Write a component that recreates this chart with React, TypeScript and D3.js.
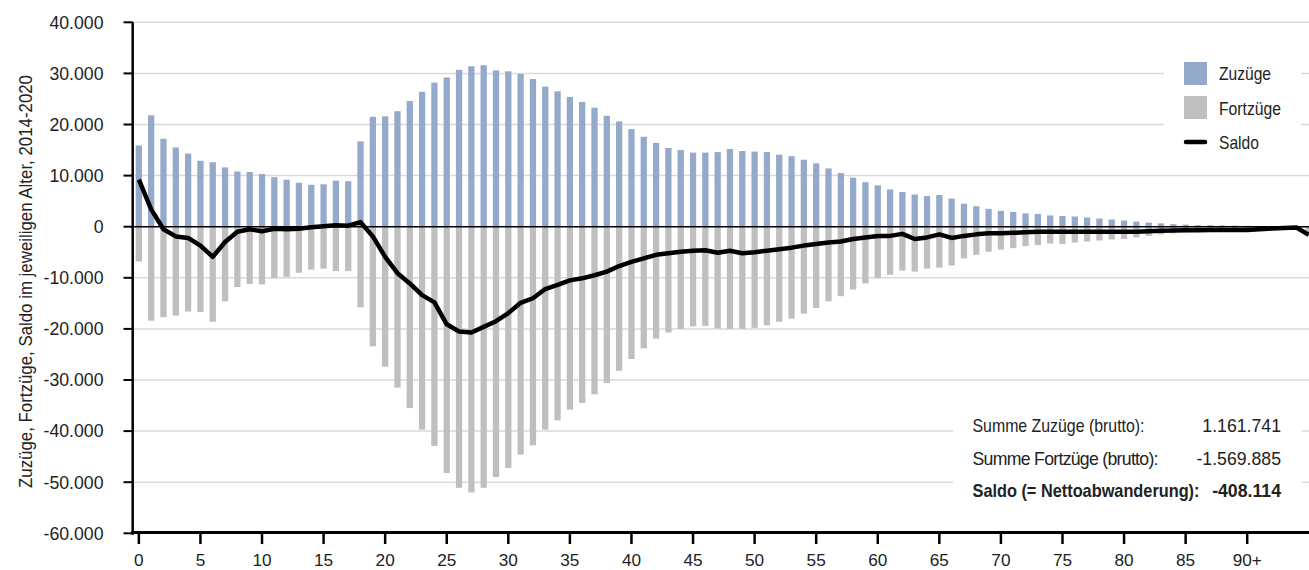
import React from 'react'
import * as d3 from 'd3'

const ages = d3.range(0, 96)
const xTickAges = d3.range(0, 91, 5)

const zuzuege = [
  15900, 21800, 17200, 15500, 14300, 12900, 12600, 11600, 10800, 10700,
  10300, 9700, 9200, 8600, 8200, 8300, 9000, 8900, 16700, 21500,
  21600, 22600, 24600, 26400, 28200, 29200, 30700, 31400, 31600, 30600,
  30400, 29900, 28900, 27400, 26500, 25400, 24400, 23300, 21700, 20600,
  19100, 17600, 16400, 15400, 15000, 14500, 14500, 14600, 15200, 14800,
  14700, 14600, 14100, 13800, 13100, 12400, 11400, 10500, 9600, 8700,
  8100, 7300, 6800, 6300, 6000, 6200, 5500, 4500, 4000, 3500,
  3100, 2900, 2600, 2500, 2200, 2100, 2000, 1800, 1600, 1400,
  1200, 1000, 800, 650, 500, 400, 300, 300, 250, 200,
  150, 120, 100, 80, 60, 100,
]

const fortzuege = [
  -6800, -18400, -17700, -17400, -16600, -16700, -18600, -14600, -11800, -11200,
  -11300, -10100, -9800, -9000, -8400, -8200, -8700, -8700, -15800, -23400,
  -27400, -31500, -35500, -39700, -42900, -48200, -51100, -52000, -51100, -49000,
  -47200, -44600, -42800, -39700, -37900, -35800, -34500, -32800, -30600, -28200,
  -25900, -23800, -21900, -20700, -20000, -19500, -19400, -19900, -20000, -20000,
  -19800, -19300, -18600, -18000, -17000, -15900, -14600, -13600, -12300, -11100,
  -10100, -9400, -8600, -8800, -8200, -8000, -7600, -6200, -5500, -4900,
  -4500, -4200, -3800, -3600, -3300, -3400, -3100, -2900, -2700, -2500,
  -2400, -2100, -1800, -1500, -1300, -1100, -1000, -900, -850, -800,
  -750, -600, -450, -350, -250, -1700,
]

const saldo = [
  9200, 3400, -500, -1900, -2200, -3700, -5900, -3000, -1000, -500,
  -900, -400, -500, -400, -100, 100, 300, 200, 900, -1900,
  -5900, -9100, -11100, -13400, -14800, -19100, -20500, -20700, -19600, -18500,
  -16900, -14900, -14000, -12200, -11400, -10500, -10100, -9500, -8800, -7700,
  -6900, -6200, -5500, -5200, -4900, -4700, -4600, -5100, -4700, -5200,
  -5000, -4700, -4400, -4100, -3700, -3400, -3100, -2900, -2400, -2100,
  -1800, -1800, -1400, -2400, -2100, -1500, -2200, -1800, -1500, -1300,
  -1300, -1200, -1100, -1000, -1000, -1000, -1000, -1000, -1000, -1000,
  -1000, -1000, -900, -800, -750, -700, -700, -650, -650, -650,
  -650, -500, -350, -250, -150, -1600,
]

const yTicks = d3.range(-60000, 40001, 10000)
const legendItems = ['Zuzüge', 'Fortzüge', 'Saldo']
const summaryLabels = ['Summe Zuzüge (brutto):', 'Summe Fortzüge (brutto):', 'Saldo (= Nettoabwanderung):']
const summaryValues = ['1.161.741', '-1.569.885', '-408.114']

const W = 1309, H = 570
const left = 132.7, step = 12.315
const blue = '#95a9cb', grey = '#bfbfbf', gridColor = '#d9d9d9'
const font = '"Liberation Sans", Arial, sans-serif'

const de = d3.formatLocale({ decimal: ',', thousands: '.', grouping: [3], currency: ['', ' €'], minus: '-' })
const fmt = de.format(',')

export default function App() {
  const x = d3.scaleBand<number>()
    .domain(ages)
    .range([left, left + ages.length * step])
    .paddingInner(0.49)
    .paddingOuter(0.245)
  const y = d3.scaleLinear().domain([-60000, 40000]).range([533.3, 22.3])
  const bw = x.bandwidth()
  const cx = (a: number) => (x(a) as number) + bw / 2

  const line = d3.line<number>()
    .x((d, i) => cx(ages[i]))
    .y(d => y(d))

  return (
    <svg width={W} height={H} style={{ position: 'absolute', left: 0, top: 0, fontFamily: font }}>
      <rect width={W} height={H} fill="#fff" />
      {/* gridlines */}
      {yTicks.filter(t => t !== 0 && t !== -60000).map(t => (
        <line key={t} x1={131} x2={W} y1={y(t)} y2={y(t)} stroke={gridColor} strokeWidth={1.5} />
      ))}
      {/* white boxes behind legend and summary */}
      <rect x={1164} y={48} width={137} height={114} fill="#fff" />
      <rect x={953} y={398} width={349} height={114} fill="#fff" />
      {/* bars */}
      {ages.map((a, i) => (
        <g key={a}>
          <rect x={x(a)} y={y(zuzuege[i])} width={bw} height={y(0) - y(zuzuege[i])} fill={blue} />
          <rect x={x(a)} y={y(0)} width={bw} height={y(fortzuege[i]) - y(0)} fill={grey} />
        </g>
      ))}
      <line x1={131} x2={W} y1={y(0)} y2={y(0)} stroke="#000" strokeWidth={1.5} />
      <path d={line(saldo) || ''} fill="none" stroke="#000" strokeWidth={4.5} strokeLinejoin="round" />
      {/* y axis */}
      <line x1={left} x2={left} y1={y(40000)} y2={y(-60000) + 1.5} stroke="#000" strokeWidth={2.5} />
      {yTicks.map(t => (
        <g key={t}>
          <line x1={123.5} x2={left} y1={y(t)} y2={y(t)} stroke="#000" strokeWidth={2} />
          <text x={103.5} y={y(t) + 6.3} textAnchor="end" fontSize={17.7} fill="#222">{fmt(t)}</text>
        </g>
      ))}
      {/* x axis */}
      <line x1={131} x2={W} y1={532.5} y2={532.5} stroke="#000" strokeWidth={3} />
      {xTickAges.map(a => (
        <g key={a}>
          <line x1={cx(a)} x2={cx(a)} y1={532} y2={544} stroke="#000" strokeWidth={2.5} />
          <text x={cx(a)} y={566} textAnchor="middle" fontSize={17.2} fill="#222">{a === 90 ? '90+' : a}</text>
        </g>
      ))}
      {/* y title */}
      <text transform="translate(31.7,281.5) rotate(-90)" textAnchor="middle" fontSize={17.7} fill="#222"
        textLength={413} lengthAdjust="spacingAndGlyphs">
        Zuzüge, Fortzüge, Saldo im jeweiligen Alter, 2014-2020
      </text>
      {/* legend */}
      <rect x={1184} y={62} width={23} height={23} fill={blue} />
      <rect x={1184} y={96} width={23} height={23} fill={grey} />
      <line x1={1186} x2={1205} y1={142} y2={142} stroke="#000" strokeWidth={4.5} strokeLinecap="round" />
      {legendItems.map((l, i) => (
        <text key={l} x={1219} y={[79.5, 114.5, 149][i]} fontSize={17.7} fill="#222"
          textLength={[52, 62, 40][i]} lengthAdjust="spacingAndGlyphs">{l}</text>
      ))}
      {/* summary */}
      {summaryLabels.map((l, i) => (
        <g key={l}>
          <text x={972.5} y={[432, 464.5, 496.5][i]} fontSize={17.7} fill="#222" fontWeight={i === 2 ? 'bold' : 'normal'}
            textLength={[172, 186, 227][i]} lengthAdjust={i === 1 ? 'spacing' : 'spacingAndGlyphs'}>{l}</text>
          <text x={1281} y={[432, 464.5, 496.5][i]} textAnchor="end" fontSize={17.7} fill="#222"
            fontWeight={i === 2 ? 'bold' : 'normal'}>{summaryValues[i]}</text>
        </g>
      ))}
    </svg>
  )
}
